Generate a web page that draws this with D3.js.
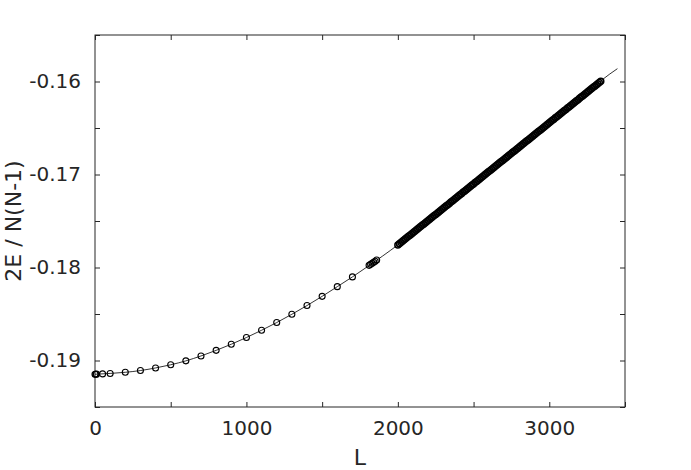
<!DOCTYPE html>
<html>
<head>
<meta charset="utf-8">
<script src="https://cdn.jsdelivr.net/npm/d3@7"></script>
<style>
  body { margin: 0; background: #fff; }
  svg text { font-family: "DejaVu Sans", sans-serif; fill: #262626; }
</style>
</head>
<body>
<svg id="chart" width="691" height="470"></svg>
<script>
// sparse measurements (small L)
var sparseL = [0, 5, 10, 50, 100, 200, 300, 400, 500, 600, 700, 800, 900, 1000,
    1100, 1200, 1300, 1400, 1500, 1600, 1700, 1810, 1820, 1830, 1840, 1850, 1860];
var sparseE = [-0.19148, -0.19148, -0.19147, -0.19144, -0.19139, -0.19127, -0.19108,
    -0.19080, -0.19046, -0.19004, -0.18951, -0.18891, -0.18825, -0.18753, -0.18675,
    -0.18592, -0.18503, -0.18409, -0.18310, -0.18206, -0.18101, -0.17977, -0.17966,
    -0.17955, -0.17943, -0.17932, -0.17920];

// dense measurements (L = 2000 ... 3340)
var denseL = [2000, 2010, 2020, 2030, 2040, 2050, 2060, 2070, 2080, 2090,
    2100, 2110, 2120, 2130, 2140, 2150, 2160, 2170, 2180, 2190,
    2200, 2210, 2220, 2230, 2240, 2250, 2260, 2270, 2280, 2290,
    2300, 2310, 2320, 2330, 2340, 2350, 2360, 2370, 2380, 2390,
    2400, 2410, 2420, 2430, 2440, 2450, 2460, 2470, 2480, 2490,
    2500, 2510, 2520, 2530, 2540, 2550, 2560, 2570, 2580, 2590,
    2600, 2610, 2620, 2630, 2640, 2650, 2660, 2670, 2680, 2690,
    2700, 2710, 2720, 2730, 2740, 2750, 2760, 2770, 2780, 2790,
    2800, 2810, 2820, 2830, 2840, 2850, 2860, 2870, 2880, 2890,
    2900, 2910, 2920, 2930, 2940, 2950, 2960, 2970, 2980, 2990,
    3000, 3010, 3020, 3030, 3040, 3050, 3060, 3070, 3080, 3090,
    3100, 3110, 3120, 3130, 3140, 3150, 3160, 3170, 3180, 3190,
    3200, 3210, 3220, 3230, 3240, 3250, 3260, 3270, 3280, 3290,
    3300, 3310, 3320, 3330, 3340];
var denseE = [-0.17757, -0.17744, -0.17731, -0.17718, -0.17705, -0.17691, -0.17678, -0.17665, -0.17652, -0.17639,
    -0.17626, -0.17613, -0.17599, -0.17586, -0.17573, -0.17560, -0.17547, -0.17534, -0.17521, -0.17508,
    -0.17494, -0.17481, -0.17468, -0.17455, -0.17442, -0.17429, -0.17416, -0.17403, -0.17389, -0.17376,
    -0.17363, -0.17350, -0.17337, -0.17324, -0.17311, -0.17297, -0.17284, -0.17271, -0.17258, -0.17245,
    -0.17232, -0.17219, -0.17206, -0.17192, -0.17179, -0.17166, -0.17153, -0.17140, -0.17127, -0.17114,
    -0.17101, -0.17087, -0.17074, -0.17061, -0.17048, -0.17035, -0.17022, -0.17009, -0.16995, -0.16982,
    -0.16969, -0.16956, -0.16943, -0.16930, -0.16917, -0.16904, -0.16890, -0.16877, -0.16864, -0.16851,
    -0.16838, -0.16825, -0.16812, -0.16799, -0.16785, -0.16772, -0.16759, -0.16746, -0.16733, -0.16720,
    -0.16707, -0.16693, -0.16680, -0.16667, -0.16654, -0.16641, -0.16628, -0.16615, -0.16602, -0.16588,
    -0.16575, -0.16562, -0.16549, -0.16536, -0.16523, -0.16510, -0.16497, -0.16483, -0.16470, -0.16457,
    -0.16444, -0.16431, -0.16418, -0.16405, -0.16391, -0.16378, -0.16365, -0.16352, -0.16339, -0.16326,
    -0.16313, -0.16300, -0.16286, -0.16273, -0.16260, -0.16247, -0.16234, -0.16221, -0.16208, -0.16195,
    -0.16181, -0.16168, -0.16155, -0.16142, -0.16129, -0.16116, -0.16103, -0.16089, -0.16076, -0.16063,
    -0.16050, -0.16037, -0.16024, -0.16011, -0.15998];

// fitted curve
var fitL = [0, 100, 200, 300, 400, 500, 600, 700, 800, 900, 1000, 1100, 1200, 1300,
    1400, 1500, 1600, 1700, 1800, 1900, 2000, 2200, 2400, 2600, 2800, 3000, 3200, 3400, 3450];
var fitE = [-0.19148, -0.19139, -0.19127, -0.19108, -0.19080, -0.19046, -0.19004, -0.18951,
    -0.18891, -0.18825, -0.18753, -0.18675, -0.18592, -0.18503, -0.18409, -0.18310, -0.18206,
    -0.18101, -0.17990, -0.17876, -0.17757, -0.17494, -0.17232, -0.16969, -0.16707, -0.16444,
    -0.16181, -0.15919, -0.15862];

var xTicks = [0, 500, 1000, 1500, 2000, 2500, 3000, 3500];
var xLabels = [0, 1000, 2000, 3000];
var yTicks = [-0.195, -0.19, -0.185, -0.18, -0.175, -0.17, -0.165, -0.16, -0.155];
var yLabels = [-0.19, -0.18, -0.17, -0.16];

var svg = d3.select("#chart"),
    margin = {left: 95, right: 66, top: 35, bottom: 63},
    width = +svg.attr("width") - margin.left - margin.right,
    height = +svg.attr("height") - margin.top - margin.bottom;

var x = d3.scaleLinear().domain([0, 3500]).range([0, width]);
var y = d3.scaleLinear().domain([-0.195, -0.155]).range([height, 0]);

var g = svg.append("g")
    .attr("transform", "translate(" + margin.left + "," + margin.top + ")");

var axisColor = "#262626";

// ticks on all four sides, pointing inward
function styleAxis(sel) {
    sel.select(".domain").remove();
    sel.selectAll("line").attr("stroke", axisColor).attr("stroke-width", 1);
    sel.selectAll("text").attr("font-size", "20px").attr("fill", axisColor);
}

g.append("g")
    .attr("transform", "translate(0," + height + ")")
    .call(d3.axisBottom(x).tickValues(xTicks).tickSizeInner(-5).tickSizeOuter(0).tickPadding(14)
        .tickFormat(function (d) { return xLabels.indexOf(d) >= 0 ? d : ""; }))
    .call(styleAxis);

g.append("g")
    .call(d3.axisTop(x).tickValues(xTicks).tickSizeInner(-5).tickSizeOuter(0).tickFormat(""))
    .call(styleAxis);

g.append("g")
    .call(d3.axisLeft(y).tickValues(yTicks).tickSizeInner(-5).tickSizeOuter(0).tickPadding(14)
        .tickFormat(function (d) {
            var hit = yLabels.some(function (v) { return Math.abs(v - d) < 1e-9; });
            return hit ? d3.format(".2f")(d).replace("\u2212", "-") : "";
        }))
    .call(styleAxis);

g.append("g")
    .attr("transform", "translate(" + width + ",0)")
    .call(d3.axisRight(y).tickValues(yTicks).tickSizeInner(-5).tickSizeOuter(0).tickFormat(""))
    .call(styleAxis);

// box
g.append("rect")
    .attr("width", width)
    .attr("height", height)
    .attr("fill", "none")
    .attr("stroke", axisColor)
    .attr("stroke-width", 1);

// fit line
var fitData = fitL.map(function (d, i) { return {L: d, E: fitE[i]}; });
var line = d3.line()
    .x(function (d) { return x(d.L); })
    .y(function (d) { return y(d.E); })
    .curve(d3.curveMonotoneX);

g.append("path")
    .datum(fitData)
    .attr("fill", "none")
    .attr("stroke", "#000")
    .attr("stroke-width", 0.8)
    .attr("d", line);

// markers
var sparse = sparseL.map(function (d, i) { return {L: d, E: sparseE[i]}; });
var dense = denseL.map(function (d, i) { return {L: d, E: denseE[i]}; });

function drawMarkers(data, sw) {
    g.append("g")
        .selectAll("circle")
        .data(data)
        .enter().append("circle")
        .attr("cx", function (d) { return x(d.L); })
        .attr("cy", function (d) { return y(d.E); })
        .attr("r", 3)
        .attr("fill", "none")
        .attr("stroke", "#000")
        .attr("stroke-width", sw);
}

drawMarkers(sparse, 1.1);
drawMarkers(dense, 1.5);

// axis labels
svg.append("text")
    .attr("x", margin.left + width / 2)
    .attr("y", 465)
    .attr("text-anchor", "middle")
    .attr("font-size", "22px")
    .text("L");

svg.append("text")
    .attr("transform", "translate(21," + (margin.top + height / 2) + ") rotate(-90)")
    .attr("text-anchor", "middle")
    .attr("font-size", "22px")
    .text("2E / N(N-1)");
</script>
</body>
</html>
